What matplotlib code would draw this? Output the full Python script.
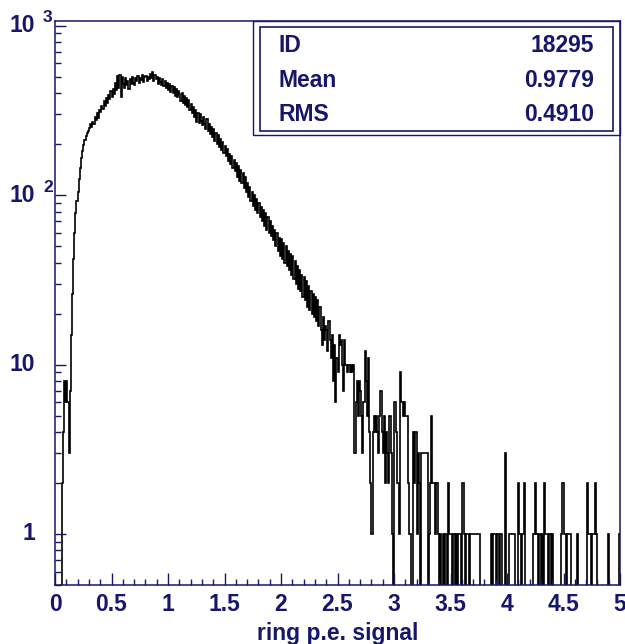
import numpy as np
import matplotlib
matplotlib.use('Agg')
import matplotlib.pyplot as plt
from matplotlib.patches import Rectangle
from matplotlib.transforms import offset_copy

plt.rcParams['font.family'] = ['Liberation Sans', 'DejaVu Sans']
plt.rcParams['font.weight'] = 'bold'

navy = '#16166a'

# histogram: 500 bins of 0.01 from 0 to 5, counts
x_lo, x_hi, nbins = 0.0, 5.0, 500
counts = [
    0, 0, 0, 0, 0, 0, 2, 4, 8, 6,
    8, 6, 3, 7, 15, 26, 42, 60, 78, 92,
    105, 125, 145, 165, 182, 198, 212, 222, 232, 240,
    248, 262, 252, 272, 262, 290, 278, 305, 286, 320,
    310, 338, 322, 360, 335, 372, 350, 392, 368, 410,
    380, 425, 395, 462, 420, 505, 430, 515, 380, 498,
    455, 430, 490, 445, 470, 425, 485, 450, 500, 462,
    445, 488, 470, 505, 460, 492, 478, 512, 468, 495,
    505, 470, 498, 482, 520, 488, 530, 470, 510, 485,
    500, 455, 490, 468, 445, 482, 440, 470, 428, 462,
    418, 450, 405, 440, 398, 432, 385, 425, 378, 410,
    395, 360, 402, 350, 385, 340, 372, 330, 362, 318,
    345, 305, 330, 290, 320, 270, 305, 265, 300, 275,
    258, 290, 262, 245, 280, 240, 262, 228, 252, 220,
    245, 210, 232, 200, 225, 192, 215, 185, 206, 178,
    196, 170, 188, 160, 175, 152, 170, 145, 162, 138,
    155, 128, 148, 122, 140, 118, 135, 110, 128, 105,
    118, 98, 112, 92, 105, 86, 100, 82, 95, 78,
    90, 74, 85, 70, 82, 66, 78, 62, 74, 60,
    70, 57, 66, 54, 62, 50, 60, 47, 56, 44,
    55, 42, 52, 40, 50, 38, 47, 36, 45, 34,
    44, 32, 41, 30, 38, 28, 36, 27, 34, 25,
    33, 24, 31, 22, 29, 21, 27, 20, 26, 19,
    25, 18, 24, 17, 22, 16, 13, 19, 14, 17,
    16, 12, 18, 14, 11, 15, 8, 13, 6, 11,
    9, 15, 13, 14, 10, 7, 14, 10, 9, 10,
    10, 9, 10, 9, 10, 3, 6, 8, 5, 8,
    7, 5, 3, 6, 12, 8, 5, 11, 4, 2,
    1, 4, 5, 4, 5, 4, 3, 5, 7, 4,
    3, 5, 2, 4, 3, 2, 5, 3, 1, 0,
    6, 6, 4, 2, 1, 9, 6, 6, 5, 6,
    5, 5, 2, 1, 1, 0, 0, 4, 2, 4,
    1, 3, 2, 0, 3, 3, 3, 3, 3, 3,
    0, 1, 2, 5, 2, 2, 1, 2, 2, 1,
    0, 1, 0, 1, 0, 1, 1, 0, 2, 1,
    1, 0, 1, 1, 0, 1, 0, 1, 1, 0,
    2, 2, 1, 0, 1, 1, 0, 1, 1, 1,
    1, 1, 1, 1, 1, 1, 0, 0, 0, 0,
    0, 0, 0, 0, 0, 0, 1, 0, 1, 1,
    0, 1, 1, 0, 1, 1, 0, 0, 3, 0,
    0, 0, 1, 1, 1, 1, 1, 0, 0, 0,
    2, 1, 0, 1, 1, 2, 0, 0, 0, 0,
    0, 0, 0, 1, 1, 2, 1, 0, 1, 1,
    0, 1, 0, 2, 1, 1, 0, 1, 1, 0,
    1, 0, 0, 0, 0, 0, 0, 0, 1, 2,
    1, 1, 0, 1, 1, 1, 1, 0, 0, 0,
    0, 0, 1, 0, 0, 0, 0, 0, 0, 0,
    0, 2, 1, 1, 0, 1, 1, 1, 2, 1,
    0, 0, 0, 0, 0, 0, 0, 0, 0, 1,
    0, 0, 0, 0, 0, 0, 0, 0, 0, 1,
]

stat_names = ['ID', 'Mean', 'RMS']
stat_values = ['18295', '0.9779', '0.4910']
xlabel = 'ring p.e. signal'

edges = np.linspace(x_lo, x_hi, nbins + 1)
vals = np.array(counts, dtype=float)
vals = np.where(vals > 0, vals, 0.05)  # empty bins drop below the frame

fig = plt.figure(figsize=(6.25, 6.44), dpi=100)
ax = fig.add_axes([55/625, 59/644, 565/625, 564/644])

ax.stairs(vals, edges, color='k', linewidth=1.2, baseline=None)

ax.set_yscale('log')
ax.set_xlim(0, 5)
ax.set_ylim(0.5, 1066)

for s in ax.spines.values():
    s.set_color(navy)
    s.set_linewidth(1.1)

ax.set_xticks(np.arange(0, 5.01, 0.5))
ax.set_xticks(np.arange(0, 5.01, 0.1), minor=True)
ax.set_xticklabels(['0', '0.5', '1', '1.5', '2', '2.5', '3', '3.5', '4', '4.5', '5'])
ax.tick_params(axis='x', which='major', direction='in', length=9, width=1, color=navy,
               labelcolor=navy, labelsize=16.5, pad=6)
ax.tick_params(axis='x', which='minor', direction='in', length=4.5, width=1, color=navy)
ax.tick_params(axis='y', which='major', direction='in', length=8, width=1, color=navy,
               labelleft=False)
ax.tick_params(axis='y', which='minor', direction='in', length=4.5, width=1, color=navy,
               labelleft=False)

# PAW style y labels: "10" with raised exponent
tr_main = offset_copy(ax.get_yaxis_transform(), fig=fig, x=-20, y=0, units='dots')
tr_sup = offset_copy(ax.get_yaxis_transform(), fig=fig, x=-12, y=8, units='dots')
for v, base, exp in [(1, '1', ''), (10, '10', ''), (100, '10', '2'), (1000, '10', '3')]:
    ax.text(0, v, base, transform=tr_main, ha='right', va='center', color=navy,
            fontsize=16.5, fontweight='bold')
    if exp:
        ax.text(0, v, exp, transform=tr_sup, ha='left', va='center', color=navy,
                fontsize=12.5, fontweight='bold')

ax.set_xlabel(xlabel, color=navy, fontsize=16.5, fontweight='bold', labelpad=4)

# stats box
ax.add_patch(Rectangle((0.350, 0.798), 0.650, 0.202, transform=ax.transAxes,
                       fill=False, edgecolor=navy, linewidth=1.0, clip_on=False))
ax.add_patch(Rectangle((0.363, 0.805), 0.625, 0.184, transform=ax.transAxes,
                       fill=True, facecolor='white', edgecolor=navy, linewidth=1.2))
ys = [0.957, 0.895, 0.834]
for name, val, yy in zip(stat_names, stat_values, ys):
    ax.text(0.395, yy, name, transform=ax.transAxes, ha='left', va='center',
            color=navy, fontsize=16.5, fontweight='bold')
    ax.text(0.954, yy, val, transform=ax.transAxes, ha='right', va='center',
            color=navy, fontsize=16.5, fontweight='bold')

plt.savefig('out.png', dpi=100)
